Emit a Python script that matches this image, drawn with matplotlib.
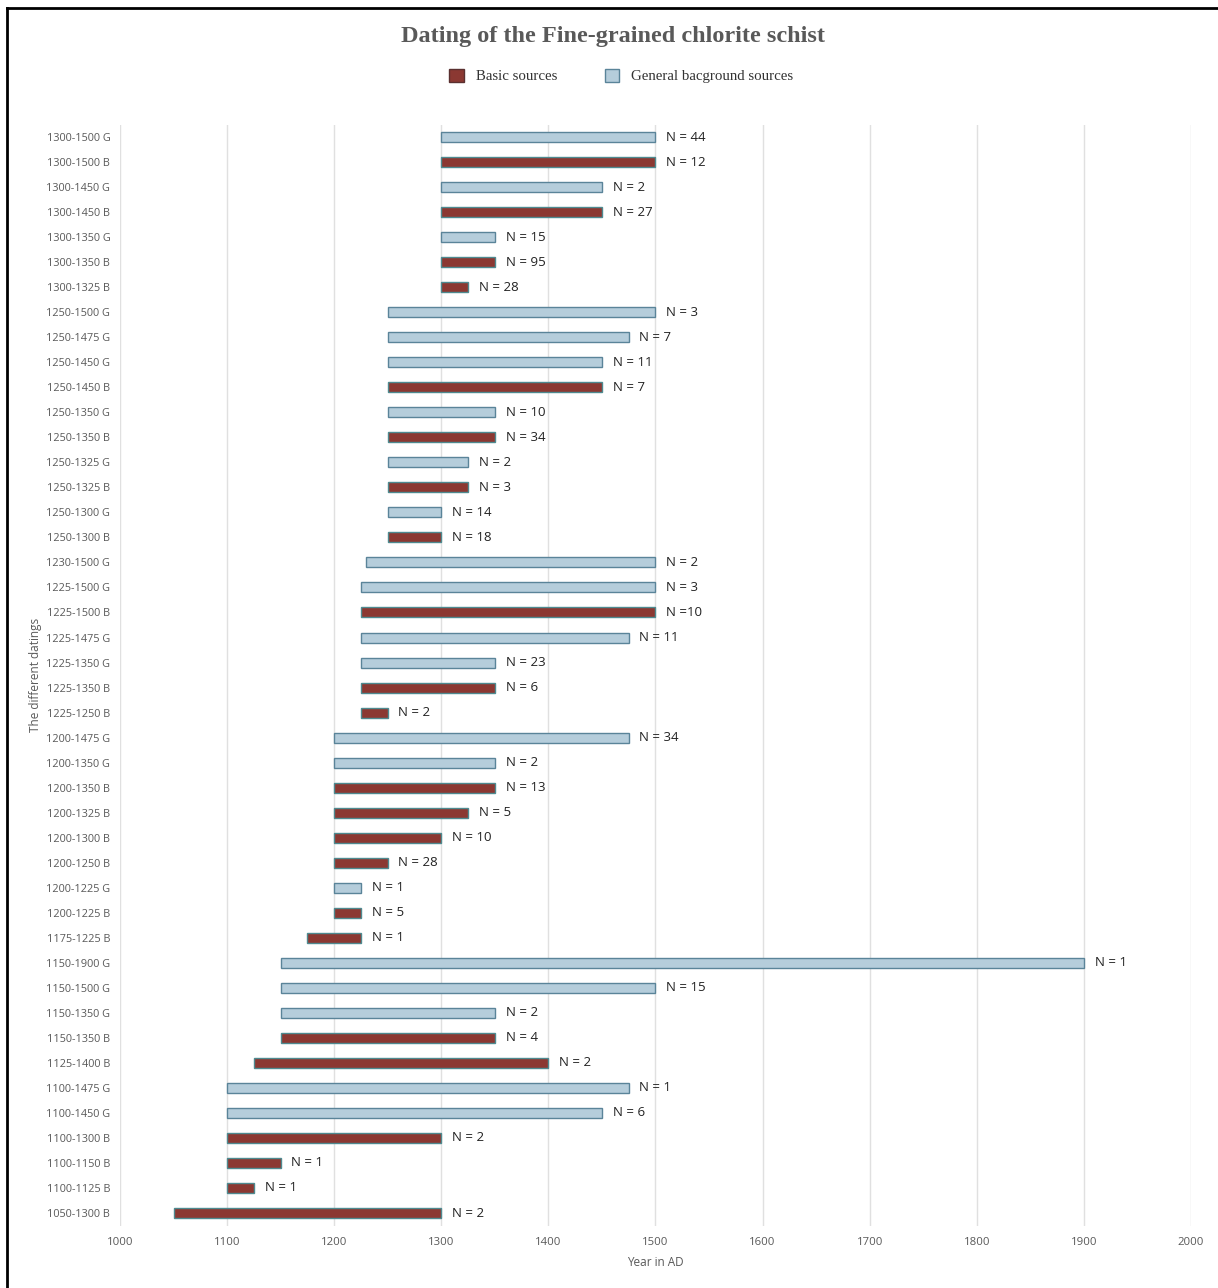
import matplotlib.pyplot as plt
from matplotlib.patches import Patch
from matplotlib.lines import Line2D

# dating ranges, top to bottom as in the chart
labels = [
    "1300-1500 G", "1300-1500 B", "1300-1450 G", "1300-1450 B", "1300-1350 G",
    "1300-1350 B", "1300-1325 B", "1250-1500 G", "1250-1475 G", "1250-1450 G",
    "1250-1450 B", "1250-1350 G", "1250-1350 B", "1250-1325 G", "1250-1325 B",
    "1250-1300 G", "1250-1300 B", "1230-1500 G", "1225-1500 G", "1225-1500 B",
    "1225-1475 G", "1225-1350 G", "1225-1350 B", "1225-1250 B", "1200-1475 G",
    "1200-1350 G", "1200-1350 B", "1200-1325 B", "1200-1300 B", "1200-1250 B",
    "1200-1225 G", "1200-1225 B", "1175-1225 B", "1150-1900 G", "1150-1500 G",
    "1150-1350 G", "1150-1350 B", "1125-1400 B", "1100-1475 G", "1100-1450 G",
    "1100-1300 B", "1100-1150 B", "1100-1125 B", "1050-1300 B",
]
counts = [
    "N = 44", "N = 12", "N = 2", "N = 27", "N = 15", "N = 95", "N = 28",
    "N = 3", "N = 7", "N = 11", "N = 7", "N = 10", "N = 34", "N = 2", "N = 3",
    "N = 14", "N = 18", "N = 2", "N = 3", "N =10", "N = 11", "N = 23", "N = 6",
    "N = 2", "N = 34", "N = 2", "N = 13", "N = 5", "N = 10", "N = 28", "N = 1",
    "N = 5", "N = 1", "N = 1", "N = 15", "N = 2", "N = 4", "N = 2", "N = 1",
    "N = 6", "N = 2", "N = 1", "N = 1", "N = 2",
]

starts = [int(l.split("-")[0]) for l in labels]
ends = [int(l.split("-")[1].split()[0]) for l in labels]
kinds = [l.split()[-1] for l in labels]

basic_face, basic_edge = "#8B3832", "#4E8A90"
gen_face, gen_edge = "#B5CDDB", "#5A8499"

fig = plt.figure(figsize=(12.18, 12.88), dpi=100)
ax = fig.add_axes([0.0985, 0.0485, 0.8793, 0.8548])

ypos = list(range(len(labels)))
for y, s, e, k, n in zip(ypos, starts, ends, kinds, counts):
    if k == "B":
        fc, ec = basic_face, basic_edge
    else:
        fc, ec = gen_face, gen_edge
    ax.barh(y, e - s, left=s, height=0.4, color=fc, edgecolor=ec, linewidth=1.0, zorder=3)
    ax.text(e + 10, y, n, va="center", ha="left", fontsize=9.5,
            family="Open Sans", color="#222222", zorder=4)

ax.set_xlim(1000, 2000)
ax.set_ylim(len(labels) - 0.5, -0.5)
ax.set_xticks(range(1000, 2001, 100))
ax.set_yticks(ypos)
ax.set_yticklabels(labels)
for t in ax.get_yticklabels():
    t.set_family("Open Sans")
    t.set_fontsize(7.8)
    t.set_color("#595959")
for t in ax.get_xticklabels():
    t.set_family("Open Sans")
    t.set_fontsize(8.2)
    t.set_color("#595959")
ax.tick_params(axis="y", length=0, pad=7)
ax.tick_params(axis="x", length=0, pad=8)
ax.grid(axis="x", color="#E0E0E0", linewidth=1.0, zorder=0)
for sp in ax.spines.values():
    sp.set_visible(False)

ax.set_xlabel("Year in AD", family="Open Sans", fontsize=8.5, color="#595959", labelpad=6)
ax.set_ylabel("The different datings", family="Open Sans", fontsize=8.5, color="#595959", labelpad=4)
ax.yaxis.set_label_coords(-0.073, 0.5)

fig.text(0.503, 0.972, "Dating of the Fine-grained chlorite schist", ha="center", va="center",
         family="Liberation Serif", fontweight="bold", fontsize=17.5, color="#595959")

handles = [Patch(facecolor=basic_face, edgecolor="#5a3030", label="Basic sources"),
           Patch(facecolor=gen_face, edgecolor=gen_edge, label="General bacground sources")]
fig.legend(handles=handles, loc="center", bbox_to_anchor=(0.510, 0.941), ncol=2, frameon=False,
           prop={"family": "Liberation Serif", "size": 10.7}, handlelength=1.0, handleheight=1.0,
           columnspacing=3.2, handletextpad=0.8, labelcolor="#333333")

# border of the chart area
fig.add_artist(Line2D([0.0058, 0.0058], [0.0, 0.9938], transform=fig.transFigure, color="black", linewidth=2))
fig.add_artist(Line2D([0.0058, 1.0], [0.9938, 0.9938], transform=fig.transFigure, color="black", linewidth=2))

fig.savefig("out.png", dpi=100)
